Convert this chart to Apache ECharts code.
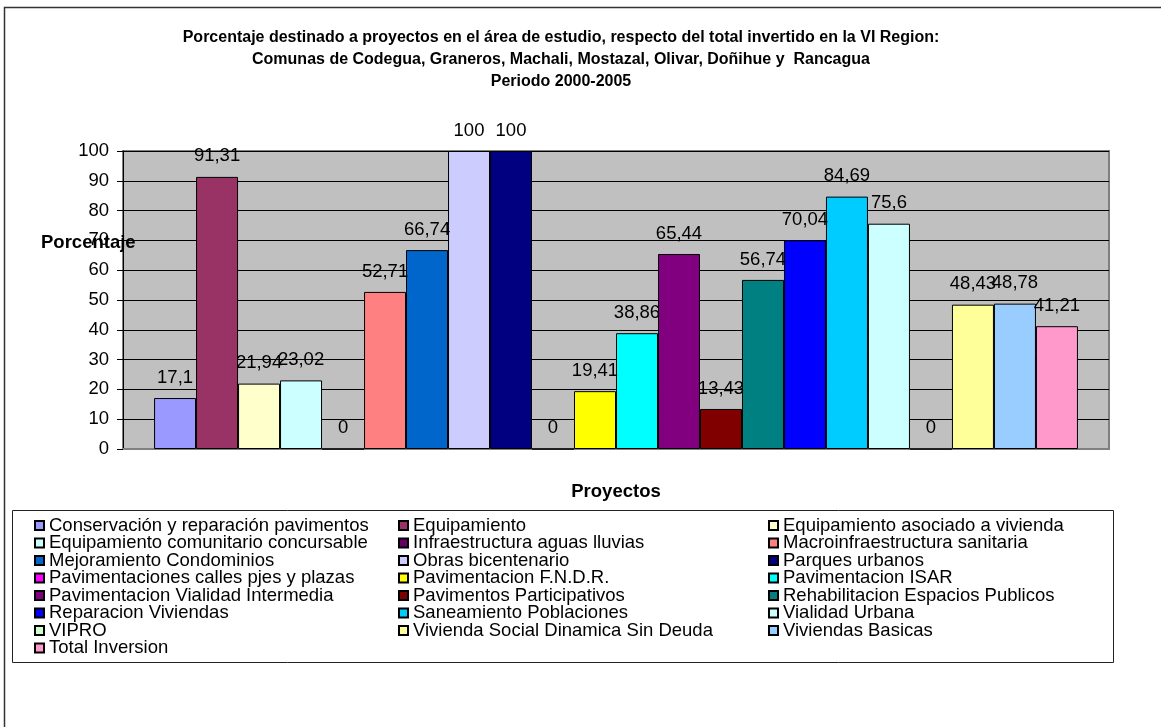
<!DOCTYPE html>
<html><head><meta charset="utf-8">
<script src="https://cdn.jsdelivr.net/npm/echarts@6/dist/echarts.min.js"></script>
<style>html,body{margin:0;padding:0;background:#fff}#c{width:1161px;height:727px}</style>
</head><body><div id="c"></div>
<script>
const categories = [''];
const seriesNames = [
  'Conservación y reparación pavimentos','Equipamiento','Equipamiento asociado a vivienda',
  'Equipamiento comunitario concursable','Infraestructura aguas lluvias','Macroinfraestructura sanitaria',
  'Mejoramiento Condominios','Obras bicentenario','Parques urbanos',
  'Pavimentaciones calles pjes y plazas','Pavimentacion F.N.D.R.','Pavimentacion ISAR',
  'Pavimentacion Vialidad Intermedia','Pavimentos Participativos','Rehabilitacion Espacios Publicos',
  'Reparacion Viviendas','Saneamiento Poblaciones','Vialidad Urbana',
  'VIPRO','Vivienda Social Dinamica Sin Deuda','Viviendas Basicas',
  'Total Inversion'
];
const seriesValues = [17.1, 91.31, 21.94, 23.02, 0, 52.71, 66.74, 100, 100, 0, 19.41, 38.86, 65.44, 13.43, 56.74, 70.04, 84.69, 75.6, 0, 48.43, 48.78, 41.21];
const seriesColors = ['#9999FF','#993366','#FFFFCC','#CCFFFF','#660066','#FF8080','#0066CC','#CCCCFF','#000080','#FF00FF','#FFFF00','#00FFFF','#800080','#800000','#008080','#0000FF','#00CCFF','#CCFFFF','#CCFFCC','#FFFF99','#99CCFF','#FF99CC'];
const yMin = 0, yMax = 100, yStep = 10;
const titleText = 'Porcentaje destinado a proyectos en el área de estudio, respecto del total invertido en la VI Region:\nComunas de Codegua, Graneros, Machali, Mostazal, Olivar, Doñihue y  Rancagua\nPeriodo 2000-2005';
const yName = 'Porcentaje';
const xName = 'Proyectos';

const FF = 'Arial, "Liberation Sans", sans-serif';
const FS = 18.5;
const chart = echarts.init(document.getElementById('c'));
const colLeft = [34, 398, 768];
const legends = [0,1,2].map(c => ({
  orient: 'vertical', left: colLeft[c], top: 516, padding: 0,
  itemWidth: 9, itemHeight: 9, itemGap: -1.5, icon: 'rect', selectedMode: false,
  data: seriesNames.filter((_, i) => i % 3 === c),
  textStyle: {fontSize: FS, color: '#000', fontFamily: FF}
}));
const series = seriesNames.map((n, i) => ({
  type: 'bar', name: n, data: [seriesValues[i]],
  barGap: '0%', barCategoryGap: '6.3%',
  itemStyle: {color: seriesColors[i], borderColor: '#000', borderWidth: 1},
  label: {show: true, position: 'top', distance: 11, fontSize: FS, color: '#000', fontFamily: FF,
    formatter: p => String(p.value).replace('.', ',')}
}));
chart.setOption({
  animation: false,
  textStyle: {fontFamily: FF},
  graphic: [
    {type: 'rect', shape: {x: 4.5, y: 7.5, width: 1300, height: 900}, style: {fill: 'none', stroke: '#333', lineWidth: 1.5}, silent: true},
    {type: 'rect', shape: {x: 12.5, y: 510.5, width: 1101, height: 152}, style: {fill: 'none', stroke: '#222', lineWidth: 1}, silent: true},
    {type: 'text', x: 561, y: 27, style: {text: titleText, fontSize: 16, fontWeight: 'bold', fontFamily: FF, fill: '#000', align: 'center', lineHeight: 22}, silent: true},
    {type: 'text', x: 41, y: 243, style: {text: yName, fontSize: FS, fontWeight: 'bold', fontFamily: FF, fill: '#000', verticalAlign: 'middle'}, silent: true, z: 100}
  ],
  legend: legends,
  grid: {left: 123, right: 52, top: 151, bottom: 278, show: true, backgroundColor: '#C0C0C0', borderColor: '#808080', borderWidth: 2},
  xAxis: {type: 'category', data: categories,
    axisLine: {show: true, lineStyle: {color: '#808080', width: 2}}, axisTick: {show: false}, axisLabel: {show: false},
    name: xName, nameLocation: 'middle', nameGap: 33,
    nameTextStyle: {fontSize: FS, fontWeight: 'bold', color: '#000', fontFamily: FF}},
  yAxis: {type: 'value', min: yMin, max: yMax, interval: yStep,
    axisLine: {show: true, lineStyle: {color: '#000', width: 1}},
    axisTick: {show: true, length: 6, lineStyle: {color: '#000'}},
    axisLabel: {fontSize: FS, margin: 14, color: '#000', fontFamily: FF},
    splitLine: {show: true, lineStyle: {color: '#000', width: 1}}},
  series: series
});
</script></body></html>
